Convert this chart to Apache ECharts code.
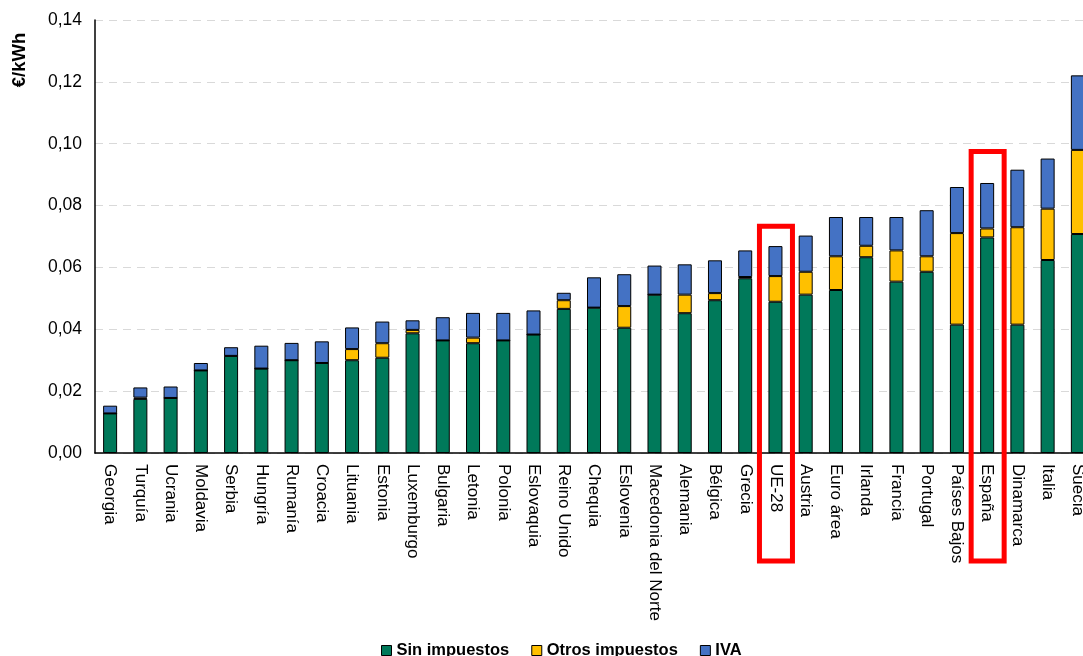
<!DOCTYPE html>
<html>
<head>
<meta charset="utf-8">
<script src="https://cdn.jsdelivr.net/npm/echarts@6/dist/echarts.min.js"></script>
<style>
  html, body { margin: 0; padding: 0; background: #fff; overflow: hidden; }
  #box { width: 1093px; height: 656px; }
</style>
</head>
<body>
<div id="box"></div>
<script>
// países (ordenados por precio total)
const paises = ['Georgia', 'Turquía', 'Ucrania', 'Moldavia', 'Serbia', 'Hungría', 'Rumanía', 'Croacia',
  'Lituania', 'Estonia', 'Luxemburgo', 'Bulgaria', 'Letonia', 'Polonia', 'Eslovaquia', 'Reino Unido',
  'Chequia', 'Eslovenia', 'Macedonia del Norte', 'Alemania', 'Bélgica', 'Grecia', 'UE-28', 'Austria',
  'Euro área', 'Irlanda', 'Francia', 'Portugal', 'Países Bajos', 'España', 'Dinamarca', 'Italia', 'Suecia'];

// €/kWh
const sinImpuestos = [0.0128, 0.0175, 0.0178, 0.0267, 0.0314, 0.0273, 0.0300, 0.0291,
  0.0300, 0.0308, 0.0387, 0.0364, 0.0355, 0.0364, 0.0383, 0.0466,
  0.0470, 0.0405, 0.0512, 0.0452, 0.0494, 0.0565, 0.0489, 0.0512,
  0.0527, 0.0633, 0.0554, 0.0586, 0.0415, 0.0697, 0.0415, 0.0624, 0.0708];
const otrosImpuestos = [0, 0.0004, 0, 0, 0, 0, 0, 0,
  0.0036, 0.0047, 0.0011, 0, 0.0018, 0, 0, 0.0028,
  0, 0.0070, 0, 0.0060, 0.0023, 0.0004, 0.0083, 0.0074,
  0.0109, 0.0037, 0.0101, 0.0050, 0.0296, 0.0029, 0.0315, 0.0166, 0.0272];
const iva = [0.0025, 0.0033, 0.0037, 0.0024, 0.0028, 0.0074, 0.0056, 0.0070,
  0.0070, 0.0070, 0.0031, 0.0075, 0.0080, 0.0089, 0.0078, 0.0024,
  0.0098, 0.0103, 0.0094, 0.0098, 0.0106, 0.0086, 0.0097, 0.0117,
  0.0127, 0.0093, 0.0108, 0.0149, 0.0149, 0.0147, 0.0186, 0.0162, 0.0241];

// recuadros rojos de resaltado
const destacados = ['UE-28', 'España'];
const destacadosTope = [0.0733, 0.0975];

const fmt = v => v.toFixed(2).replace('.', ',');
const font = 'Liberation Sans, Arial, sans-serif';

// el div es algo más ancho que la ventana: Suecia queda cortada como en el original
const myChart = echarts.init(document.getElementById('box'));

const serie = (name, data, color) => ({
  name: name,
  type: 'bar',
  stack: 'total',
  barWidth: 14,
  data: data,
  itemStyle: { color: color, borderColor: '#000', borderWidth: 1 },
  emphasis: { disabled: true }
});

const option = {
  animation: false,
  textStyle: { fontFamily: font },
  grid: { left: 95, top: 20, right: 0, bottom: 203 },
  legend: {
    bottom: -8,
    left: 376,
    icon: 'rect',
    itemWidth: 10,
    itemHeight: 10,
    itemGap: 22,
    textStyle: { fontSize: 16.5, fontWeight: 'bold', color: '#000', fontFamily: font },
    data: [
      { name: 'Sin impuestos', itemStyle: { borderColor: '#000', borderWidth: 1 } },
      { name: 'Otros impuestos', itemStyle: { borderColor: '#000', borderWidth: 1 } },
      { name: 'IVA', itemStyle: { borderColor: '#000', borderWidth: 1 } }
    ]
  },
  xAxis: {
    type: 'category',
    data: paises,
    axisLine: { lineStyle: { color: '#000', width: 1.5 } },
    axisTick: { show: false },
    axisLabel: {
      interval: 0,
      rotate: -90,
      fontSize: 17,
      color: '#000',
      margin: 11,
      fontFamily: font
    }
  },
  yAxis: {
    type: 'value',
    min: 0,
    max: 0.14,
    interval: 0.02,
    axisLine: { show: true, lineStyle: { color: '#000', width: 1.5 } },
    axisTick: { show: false },
    splitLine: { lineStyle: { type: [8, 6], color: '#d9d9d9', width: 1.2 } },
    axisLabel: { formatter: fmt, fontSize: 17.5, color: '#000', margin: 13, fontFamily: font }
  },
  series: [
    serie('Sin impuestos', sinImpuestos, '#00795a'),
    serie('Otros impuestos', otrosImpuestos, '#ffc000'),
    serie('IVA', iva, '#4472c4')
  ]
};

myChart.setOption(option);

// nombre del eje y recuadros rojos
const ejeY0 = myChart.convertToPixel({ yAxisIndex: 0 }, 0);
const graficos = [{
  type: 'text',
  x: 20,
  y: 60,
  rotation: Math.PI / 2,
  style: {
    text: '€/kWh',
    font: 'bold 18.5px ' + font,
    fill: '#000',
    align: 'center',
    verticalAlign: 'middle'
  }
}];
destacados.forEach((p, i) => {
  const cx = myChart.convertToPixel({ xAxisIndex: 0 }, p);
  const yTop = myChart.convertToPixel({ yAxisIndex: 0 }, destacadosTope[i]);
  graficos.push({
    type: 'rect',
    shape: { x: cx - 16, y: yTop, width: 33, height: ejeY0 + 108 - yTop },
    style: { fill: 'none', stroke: '#ff0000', lineWidth: 5 },
    z: 100
  });
});
myChart.setOption({ graphic: graficos });
</script>
</body>
</html>
